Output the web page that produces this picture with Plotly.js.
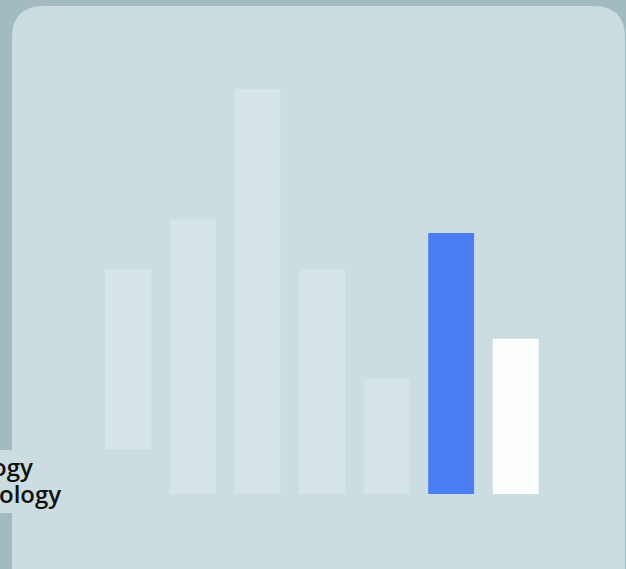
<!DOCTYPE html>
<html>
<head>
<meta charset="utf-8">
<script src="https://cdn.plot.ly/plotly-3.0.1.min.js"></script>
<style>html,body{margin:0;padding:0;background:#a1bbc0;}#chart{width:626px;height:569px;}</style>
</head>
<body>
<div id="chart"></div>
<script>
// Data
var categories = ['c1', 'c2', 'c3', 'c4', 'c5', 'c6', 'c7'];
var barBase = [10, 0, 0, 0, 0, 0, 0];
var barValues = [40, 61, 90, 50, 25.5, 58, 34.5];
var labelLines = ['ogy', 'ology'];

// Styles
var barColors = ['#d6e4e9', '#d6e4e9', '#d6e4e9', '#d6e4e9', '#d6e4e9', '#4a7cf4', '#fdfefe'];
var W = 626, H = 569, L = 96, R = 78, T = 44, B = 75;
var PW = W - L - R, PH = H - T - B;
function px(x) { return (x - L) / PW; }
function py(y) { return (H - B - y) / PH; }

// Rounded card path in paper coords
var cx0 = 12, cy0 = 6, cx1 = 625, cy1 = 600, r = 32;
var cardPath = 'M ' + px(cx0) + ',' + py(cy1) +
  ' L ' + px(cx0) + ',' + py(cy0 + r) +
  ' Q ' + px(cx0) + ',' + py(cy0) + ' ' + px(cx0 + r) + ',' + py(cy0) +
  ' L ' + px(cx1 - r) + ',' + py(cy0) +
  ' Q ' + px(cx1) + ',' + py(cy0) + ' ' + px(cx1) + ',' + py(cy0 + r) +
  ' L ' + px(cx1) + ',' + py(cy1) + ' Z';

var trace = {
  type: 'bar',
  x: categories,
  y: barValues,
  base: barBase,
  marker: { color: barColors, line: { width: 0 } },
  hoverinfo: 'none'
};

var labelFont = { family: 'Open Sans', size: 24, color: '#111111', weight: 600 };

var layout = {
  width: W, height: H,
  margin: { l: L, r: R, t: T, b: B, pad: 0 },
  paper_bgcolor: '#a1bbc0',
  plot_bgcolor: 'rgba(0,0,0,0)',
  showlegend: false,
  bargap: 0.289,
  xaxis: { visible: false, range: [-0.5, 6.5], fixedrange: true },
  yaxis: { visible: false, range: [0, 100], fixedrange: true },
  shapes: [
    { type: 'path', xref: 'paper', yref: 'paper', layer: 'below', path: cardPath,
      fillcolor: '#cbdde1', line: { width: 0 } },
    { type: 'rect', xref: 'paper', yref: 'paper', layer: 'below',
      x0: px(0), x1: px(14), y0: py(513), y1: py(450),
      fillcolor: '#cbdde1', line: { width: 0 } }
  ],
  annotations: [
    { xref: 'paper', yref: 'paper', x: px(-9), y: py(466), xanchor: 'left', yanchor: 'middle',
      text: labelLines[0], showarrow: false, borderpad: 0, font: labelFont },
    { xref: 'paper', yref: 'paper', x: px(-2), y: py(493), xanchor: 'left', yanchor: 'middle',
      text: labelLines[1], showarrow: false, borderpad: 0, font: labelFont }
  ]
};

Plotly.newPlot('chart', [trace], layout, { displayModeBar: false, staticPlot: true });
</script>
</body>
</html>
